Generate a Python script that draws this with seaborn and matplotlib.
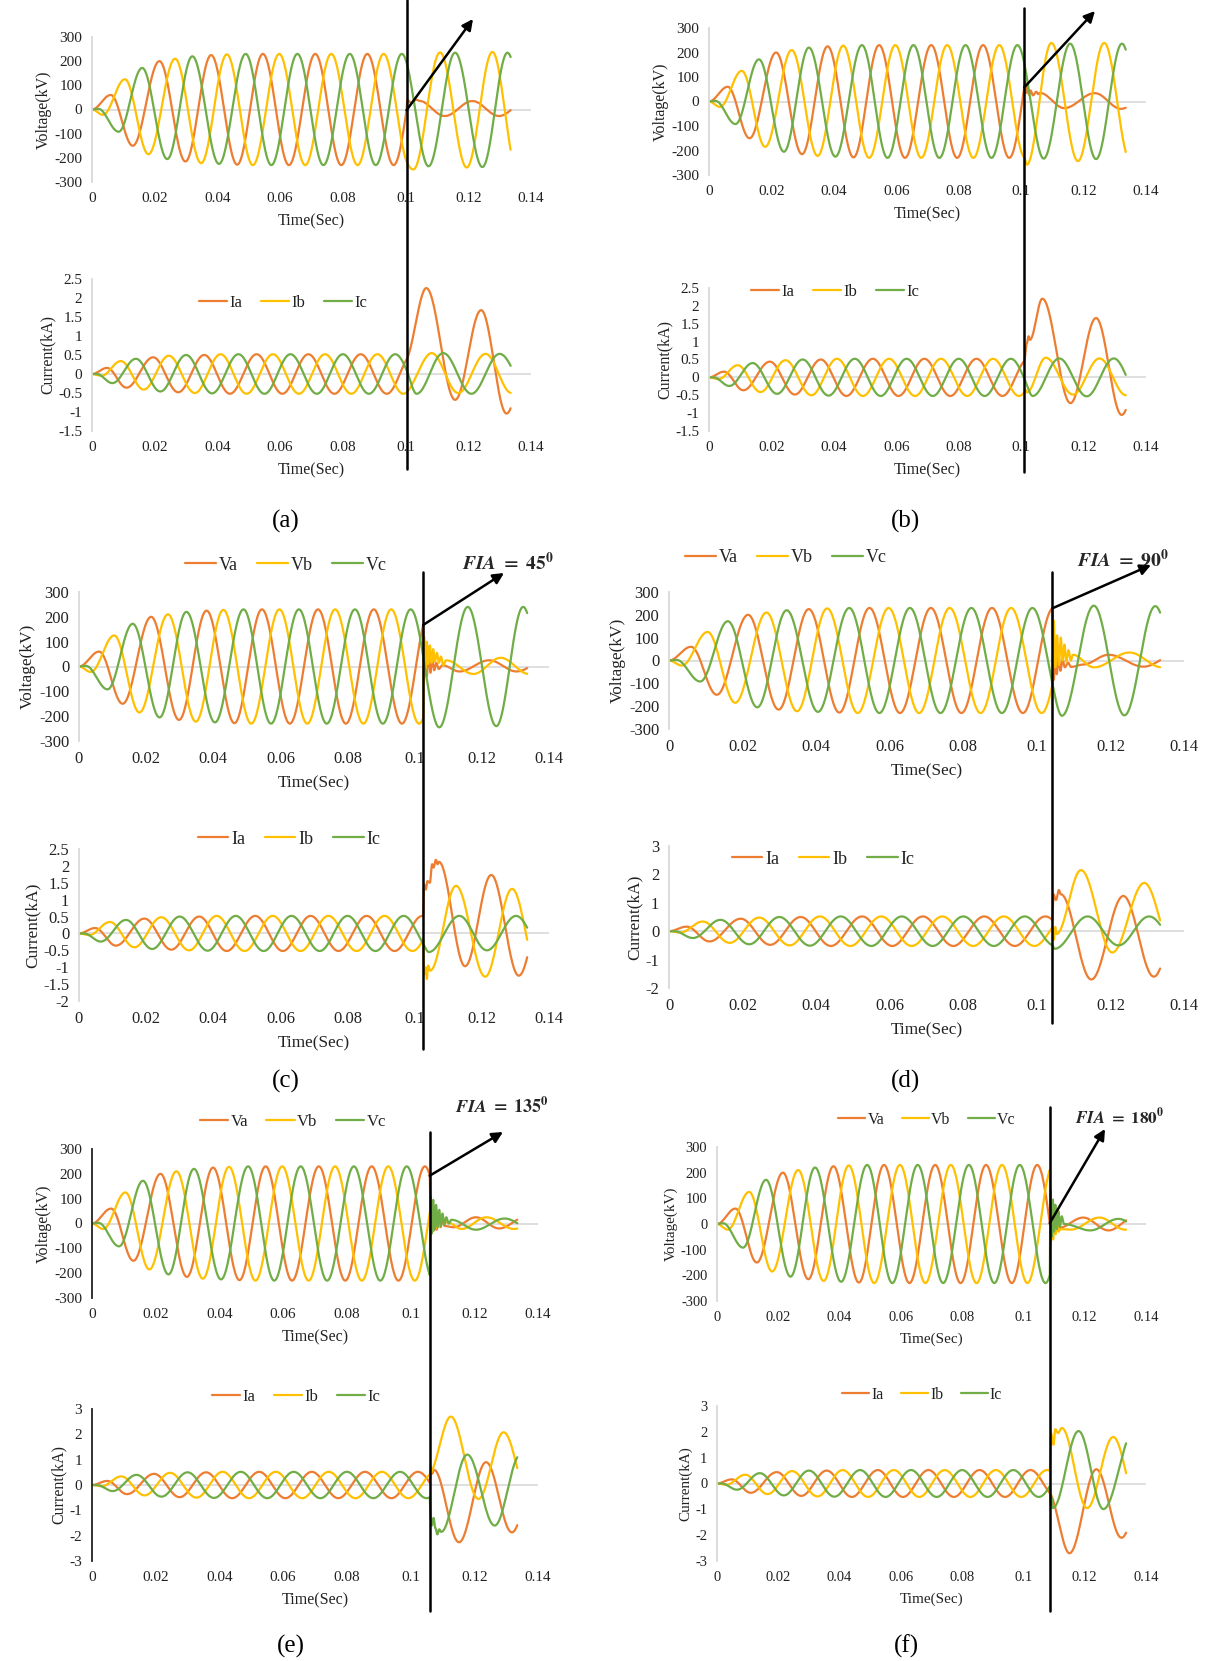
import numpy as np
import pandas as pd
import matplotlib
matplotlib.use('Agg')
import matplotlib.pyplot as plt
import seaborn as sns
from matplotlib.lines import Line2D
from matplotlib.patches import ConnectionPatch

# ---- valores (extremos de cada onda) ----
T_END = 0.1335
FASES_V = ['Va', 'Vb', 'Vc']
FASES_I = ['Ia', 'Ib', 'Ic']
CORES = ['#ED7D31', '#FFC000', '#70AD47']

# regime antes da falta (igual em todos os casos)
PRE_VA = [(0, 0), (0.006, 60), (0.013, -150), (0.0215, 200), (0.0298, -215), (0.038, 225), (0.0463, -228),
          (0.0545, 230), (0.0628, -230), (0.0712, 230), (0.0795, -230), (0.0878, 230), (0.0962, -230),
          (0.1045, 230), (0.1128, -230), (0.1212, 230), (0.1295, -230), (0.138, 230)]
PRE_VB = [(0, 0), (0.0035, -22), (0.0105, 125), (0.018, -185), (0.0265, 210), (0.0348, -222), (0.043, 228),
          (0.0513, -230), (0.0597, 230), (0.068, -230), (0.0763, 230), (0.0847, -230), (0.093, 230),
          (0.1013, -230), (0.1097, 230), (0.118, -230), (0.1263, 230), (0.1347, -230)]
PRE_VC = [(0, 0), (0.002, 3), (0.0085, -92), (0.016, 172), (0.024, -205), (0.032, 220), (0.0405, -225),
          (0.049, 230), (0.0572, -230), (0.0655, 230), (0.0738, -230), (0.0822, 230), (0.0905, -230),
          (0.0988, 230), (0.1072, -230), (0.1155, 230), (0.1238, -230), (0.1322, 230), (0.14, -230)]
PRE_IA = [(0, 0), (0.0048, 0.16), (0.011, -0.36), (0.0195, 0.44), (0.0275, -0.48), (0.0358, 0.5), (0.044, -0.52),
          (0.0525, 0.52), (0.0607, -0.52), (0.069, 0.52), (0.0773, -0.52), (0.0857, 0.52), (0.094, -0.52),
          (0.1023, 0.52), (0.1107, -0.52), (0.119, 0.52), (0.1273, -0.52), (0.1357, 0.52)]
PRE_IB = [(0, 0), (0.003, -0.05), (0.0092, 0.34), (0.0165, -0.41), (0.0245, 0.48), (0.0328, -0.5), (0.041, 0.52),
          (0.0493, -0.52), (0.0577, 0.52), (0.066, -0.52), (0.0743, 0.52), (0.0827, -0.52), (0.091, 0.52),
          (0.0993, -0.52), (0.1077, 0.52), (0.116, -0.52), (0.1243, 0.52), (0.1327, -0.52), (0.141, 0.52)]
PRE_IC = [(0, 0), (0.0015, 0.0), (0.0065, -0.24), (0.014, 0.4), (0.0218, -0.46), (0.03, 0.5), (0.0383, -0.51),
          (0.0467, 0.52), (0.055, -0.52), (0.0633, 0.52), (0.0717, -0.52), (0.08, 0.52), (0.0883, -0.52),
          (0.0967, 0.52), (0.105, -0.52), (0.1133, 0.52), (0.1217, -0.52), (0.13, 0.52), (0.1383, -0.52)]

CASOS = ['a', 'b', 'c', 'd', 'e', 'f']
T_FALTA = [0.1003, 0.1010, 0.1025, 0.1042, 0.1060, 0.1086]
FIA = [None, None, '45', '90', '135', '180']

# depois da falta
POS_A = {
    'Va': [(0.1005, 40), (0.1018, 28), (0.1035, 40), (0.1043, 36), (0.1125, -27), (0.1213, 35), (0.1298, -27), (0.138, 30)],
    'Vb': [(0.1025, -248), (0.111, 236), (0.1195, -240), (0.1277, 238), (0.1355, -240)],
    'Vc': [(0.1073, -235), (0.1158, 235), (0.1245, -238), (0.1325, 235), (0.1405, -235)],
    'Ia': [(0.1066, 2.26), (0.1158, -0.68), (0.1241, 1.68), (0.1322, -1.04), (0.1405, 1.3)],
    'Ib': [(0.1083, 0.55), (0.1168, -0.5), (0.1255, 0.53), (0.1338, -0.5)],
    'Ic': [(0.1035, -0.52), (0.112, 0.55), (0.121, -0.52), (0.13, 0.53), (0.1395, -0.52)],
}
POS_B = {
    'Va': [(0.1013, 80), (0.1016, 35), (0.102, 58), (0.1025, 28), (0.103, 45), (0.1038, 25), (0.1048, 40),
           (0.1055, 30), (0.106, 35), (0.1138, -27), (0.1236, 34), (0.132, -30), (0.1405, 30)],
    'Vb': [(0.1018, -258), (0.1097, 239), (0.1182, -243), (0.1266, 239), (0.135, -243)],
    'Vc': [(0.1072, -233), (0.1157, 236), (0.124, -235), (0.1323, 236), (0.1405, -235)],
    'Ia': [(0.1018, 0.95), (0.1024, 1.15), (0.1028, 1.05), (0.1068, 2.2), (0.1158, -0.72), (0.124, 1.66),
           (0.1322, -1.05), (0.1405, 1.3)],
    'Ib': [(0.1014, -0.35), (0.1018, -0.42), (0.1079, 0.55), (0.1166, -0.48), (0.1251, 0.53), (0.1336, -0.5)],
    'Ic': [(0.1037, -0.52), (0.1122, 0.53), (0.121, -0.53), (0.1297, 0.53), (0.138, -0.53)],
}
POS_C = {
    'Va': [(0.1027, -60), (0.1031, 50), (0.1036, -40), (0.1041, 45), (0.1047, -25), (0.1052, 30), (0.1058, -15),
           (0.1064, 15), (0.1072, -10), (0.1082, 5), (0.1133, -20), (0.1222, 25), (0.1303, -20), (0.139, 25)],
    'Vb': [(0.1028, 120), (0.1032, -10), (0.1036, 100), (0.104, 10), (0.1045, 85), (0.105, 15), (0.1055, 70),
           (0.106, 20), (0.1066, 55), (0.1072, 15), (0.1078, 40), (0.1085, 5), (0.1093, 25), (0.1175, -30),
           (0.1256, 35), (0.134, -30)],
    'Vc': [(0.1073, -245), (0.1158, 240), (0.1243, -240), (0.1323, 240), (0.1405, -240)],
    'Ia': [(0.1028, 1.45), (0.1033, 1.3), (0.1038, 1.55), (0.1045, 1.5), (0.1052, 2.05), (0.1056, 1.95),
           (0.1063, 2.18), (0.1068, 2.05), (0.1072, 2.12), (0.115, -0.97), (0.1228, 1.73), (0.131, -1.25), (0.1395, 1.5)],
    'Ib': [(0.1028, -1.22), (0.1032, -1.0), (0.1036, -1.35), (0.104, -0.95), (0.1046, -1.1), (0.1123, 1.41),
           (0.121, -1.28), (0.129, 1.32), (0.1372, -1.3)],
    'Ic': [(0.1042, -0.55), (0.1133, 0.52), (0.1215, -0.5), (0.1302, 0.52), (0.1385, -0.5)],
}
POS_D = {
    'Va': [(0.1046, -85), (0.105, 30), (0.1054, -60), (0.1059, 20), (0.1064, -45), (0.107, 5), (0.1076, -30),
           (0.1085, -10), (0.1093, -28), (0.1125, -18), (0.1195, 25), (0.129, -27), (0.1375, 25)],
    'Vb': [(0.1046, 175), (0.105, -30), (0.1055, 110), (0.106, -20), (0.1065, 100), (0.107, 0), (0.1075, 70),
           (0.108, -5), (0.1086, 45), (0.1092, 0), (0.1098, 25), (0.1155, -30), (0.1252, 35), (0.134, -30)],
    'Vc': [(0.1068, -242), (0.1155, 240), (0.1238, -240), (0.1322, 238), (0.1405, -240)],
    'Ia': [(0.1045, 1.3), (0.1052, 1.1), (0.106, 1.45), (0.1065, 1.3), (0.1148, -1.7), (0.1235, 1.24),
           (0.1318, -1.6), (0.14, 1.2)],
    'Ib': [(0.1046, -0.3), (0.105, 0.15), (0.1053, -0.1), (0.112, 2.15), (0.1205, -0.75), (0.1292, 1.7), (0.1375, -0.8)],
    'Ic': [(0.1048, -0.62), (0.1138, 0.52), (0.1222, -0.5), (0.1305, 0.52), (0.1388, -0.5)],
}
POS_E = {
    'Va': [(0.1064, -40), (0.1068, 60), (0.1072, -30), (0.1077, 45), (0.1082, -25), (0.1088, 30), (0.1094, -15),
           (0.11, 15), (0.1107, -10), (0.1135, -15), (0.1205, 25), (0.1278, -20), (0.136, 25)],
    'Vb': [(0.1064, 30), (0.1068, -30), (0.1073, 25), (0.1078, -20), (0.1085, 15), (0.1092, -10), (0.1098, 10),
           (0.1115, 5), (0.116, -22), (0.1238, 25), (0.1325, -22), (0.141, 25)],
    'Vc': [(0.1063, 110), (0.1067, -40), (0.1071, 95), (0.1075, -25), (0.108, 75), (0.1085, -15), (0.109, 55),
           (0.1095, -10), (0.11, 40), (0.1106, -5), (0.1112, 25), (0.112, 0), (0.1128, 15), (0.1205, -25),
           (0.1295, 20), (0.138, -22)],
    'Ia': [(0.1064, 0.7), (0.1068, 0.45), (0.1073, 0.6), (0.1152, -2.26), (0.1237, 0.9), (0.1318, -1.87), (0.14, 0.9)],
    'Ib': [(0.1126, 2.7), (0.1213, -0.55), (0.1292, 2.08), (0.1375, -0.6)],
    'Ic': [(0.1063, -1.3), (0.1067, -1.6), (0.1072, -1.3), (0.1078, -1.7), (0.1084, -1.95), (0.109, -1.75),
           (0.1096, -1.85), (0.1178, 1.2), (0.1264, -1.6), (0.1345, 1.2)],
}
POS_F = {
    'Va': [(0.1089, -30), (0.1093, 20), (0.1097, -20), (0.1102, 10), (0.1115, -15), (0.1195, 25), (0.1278, -25), (0.136, 25)],
    'Vb': [(0.1089, -80), (0.1093, 30), (0.1097, -60), (0.1101, 15), (0.1105, -40), (0.111, 0), (0.1115, -30),
           (0.112, -20), (0.1155, -22), (0.1248, 25), (0.1332, -22), (0.1415, 25)],
    'Vc': [(0.1088, 130), (0.1092, -50), (0.1096, 95), (0.11, -30), (0.1104, 75), (0.1109, -20), (0.1114, 50),
           (0.1119, -10), (0.1125, 30), (0.1132, 0), (0.1218, -25), (0.131, 20), (0.139, -25)],
    'Ia': [(0.115, -2.7), (0.1238, 0.55), (0.132, -2.1), (0.1405, 0.5)],
    'Ib': [(0.109, 1.95), (0.1098, 1.5), (0.1104, 2.1), (0.1113, 1.95), (0.1125, 2.15), (0.1208, -0.95),
           (0.1293, 1.8), (0.1375, -0.9)],
    'Ic': [(0.1089, -0.85), (0.1092, -0.55), (0.1096, -0.95), (0.118, 2.03), (0.1261, -0.99), (0.136, 2.0)],
}
POS = [POS_A, POS_B, POS_C, POS_D, POS_E, POS_F]
PRE = {'Va': PRE_VA, 'Vb': PRE_VB, 'Vc': PRE_VC, 'Ia': PRE_IA, 'Ib': PRE_IB, 'Ic': PRE_IC}

X_TICKS = [0, 0.02, 0.04, 0.06, 0.08, 0.1, 0.12, 0.14]
V_TICKS = [-300, -200, -100, 0, 100, 200, 300]
I_LIM = [(-1.5, 2.5), (-1.5, 2.5), (-2, 2.5), (-2, 3), (-3, 3), (-3, 3)]
I_PASSO = [0.5, 0.5, 0.5, 1, 1, 1]

# ---- posicoes em pixels (esq, dir, topo, base) ----
W, H = 1207, 1661
CAIXA_V = [(92, 531, 37, 182), (709, 1146, 28, 175), (79, 549, 592, 741),
           (669, 1184, 592, 729), (92, 538, 1149, 1298), (717, 1146, 1147, 1301)]
CAIXA_I = [(92, 531, 279, 431), (709, 1146, 288, 431), (79, 549, 849, 1001),
           (669, 1184, 846, 988), (92, 538, 1409, 1561), (717, 1146, 1406, 1561)]
LEG_V = [(300, -4), None, (286, 565), (786, 558), (293, 1122), (927, 1120)]
LEG_I = [(283, 303), (835, 292), (289, 839), (823, 859), (296, 1397), (922, 1395)]
LINHA_Y = [(0, 469), (8, 472), (572, 1049), (572, 1023), (1132, 1611), (1107, 1611)]
SETA_FIM = [(473, 19), (1095, 11), (504, 573), (1151, 565), (503, 1132), (1105, 1129)]
TXT_FIA = [None, None, (508, 563), (1123, 560), (502, 1107), (1120, 1117)]
ROTULO = [(286, 521), (906, 521), (286, 1081), (906, 1081), (291, 1646), (906, 1646)]
ESCALA = [1.0, 1.0, 1.08, 1.08, 1.0, 0.95]

T = np.linspace(0, T_END, 7000)


def meio_cosseno(ts, pts):
    pt = np.array([p[0] for p in pts])
    pv = np.array([p[1] for p in pts])
    idx = np.clip(np.searchsorted(pt, ts, side='right') - 1, 0, len(pt) - 2)
    t0, t1 = pt[idx], pt[idx + 1]
    v0, v1 = pv[idx], pv[idx + 1]
    s = np.clip((ts - t0) / (t1 - t0), 0, 1)
    return v0 + (v1 - v0) * (1 - np.cos(np.pi * s)) / 2


def onda(pre, pos, tf):
    y = meio_cosseno(T, pre)
    v0 = meio_cosseno(np.array([tf]), pre)[0]
    dt = 1e-6
    m0 = (meio_cosseno(np.array([tf + dt]), pre)[0] - meio_cosseno(np.array([tf - dt]), pre)[0]) / (2 * dt)
    t1, v1 = pos[0]
    h = t1 - tf
    seg = (T >= tf) & (T < t1)
    s = (T[seg] - tf) / h
    y[seg] = (2 * s**3 - 3 * s**2 + 1) * v0 + (s**3 - 2 * s**2 + s) * h * m0 + (-2 * s**3 + 3 * s**2) * v1
    resto = T >= t1
    y[resto] = meio_cosseno(T[resto], pos)
    return y


def px(caixa):
    e, d, t, b = caixa
    return [e / W, 1 - b / H, (d - e) / W, (b - t) / H]


def estilo(ax, ylim, yticks, ylabel, fs, escuro=False):
    ax.set_xlim(0, 0.14)
    ax.set_ylim(*ylim)
    ax.set_xticks(X_TICKS)
    ax.set_xticklabels([f'{v:g}' for v in X_TICKS])
    ax.set_yticks(yticks)
    ax.set_yticklabels([f'{v:g}' for v in yticks])
    for s in ['top', 'right', 'bottom']:
        ax.spines[s].set_visible(False)
    ax.spines['left'].set_color('#222222' if escuro else '#D9D9D9')
    ax.spines['left'].set_linewidth(1.3)
    ax.axhline(0, color='#D9D9D9', lw=1.2, zorder=0)
    ax.tick_params(length=0, labelsize=11 * fs, colors='#222222', pad=7)
    ax.set_xlabel('Time(Sec)', fontsize=11.5 * fs, color='#222222', labelpad=6)
    ax.set_ylabel(ylabel, fontsize=11.5 * fs, color='#222222', labelpad=2)
    ax.set_facecolor('none')
    ax.grid(False)


def legenda(ax, pos, fs):
    handles, labels = ax.get_legend_handles_labels()
    if ax.get_legend() is not None:
        ax.get_legend().remove()
    if pos is None:
        return
    ax.legend(handles, labels, loc='center', bbox_to_anchor=(pos[0] / W, 1 - pos[1] / H),
              bbox_transform=fig.transFigure, ncol=3, frameon=False, fontsize=12 * fs,
              handlelength=1.7, columnspacing=1.1, handletextpad=0.15, labelcolor='#222222')


sns.set_theme(style='white')
plt.rcParams['font.family'] = ['Liberation Serif', 'DejaVu Serif']
plt.rcParams['mathtext.fontset'] = 'stix'

fig = plt.figure(figsize=(W / 100, H / 100), dpi=100)

for k, caso in enumerate(CASOS):
    tf = T_FALTA[k]
    pos = POS[k]
    fs = ESCALA[k]
    escuro = caso == 'e'

    axV = fig.add_axes(px(CAIXA_V[k]))
    dfV = pd.concat([pd.DataFrame({'t': T, 'val': onda(PRE[f], pos[f], tf), 'fase': f}) for f in FASES_V])
    sns.lineplot(data=dfV, x='t', y='val', hue='fase', palette=CORES, estimator=None, sort=False,
                 linewidth=1.6, ax=axV)
    estilo(axV, (-300, 300), V_TICKS, 'Voltage(kV)', fs, escuro)
    legenda(axV, LEG_V[k], fs)

    axI = fig.add_axes(px(CAIXA_I[k]))
    dfI = pd.concat([pd.DataFrame({'t': T, 'val': onda(PRE[f], pos[f], tf), 'fase': f}) for f in FASES_I])
    sns.lineplot(data=dfI, x='t', y='val', hue='fase', palette=CORES, estimator=None, sort=False,
                 linewidth=1.6, ax=axI)
    lo, hi = I_LIM[k]
    iticks = np.round(np.arange(lo, hi + 1e-9, I_PASSO[k]), 2)
    estilo(axI, I_LIM[k], iticks, 'Current(kA)', fs, escuro)
    legenda(axI, LEG_I[k], fs)

    # linha vertical da falta atravessando os dois graficos
    xa = axV.transData.transform((tf, 0))[0] / W
    xb = axI.transData.transform((tf, 0))[0] / W
    yt, yb = LINHA_Y[k]
    fig.add_artist(Line2D([xa, xb], [1 - yt / H, 1 - yb / H], transform=fig.transFigure,
                          color='black', lw=1.8))

    # seta a partir do ponto de falta em Va
    va0 = onda(PRE['Va'], pos['Va'], tf)[np.searchsorted(T, tf)]
    seta = ConnectionPatch(xyA=(tf, va0), coordsA=axV.transData,
                           xyB=(SETA_FIM[k][0], H - SETA_FIM[k][1]), coordsB='figure pixels',
                           arrowstyle='-|>', mutation_scale=16, color='black', lw=1.8)
    fig.add_artist(seta)

    if FIA[k] is not None:
        fig.text(TXT_FIA[k][0] / W, 1 - TXT_FIA[k][1] / H,
                 r'$\mathbfit{FIA}\ \mathbf{=\ ' + FIA[k] + r'^0}$',
                 ha='center', va='center', fontsize=13 * fs)

    fig.text(ROTULO[k][0] / W, 1 - ROTULO[k][1] / H, f'({caso})', ha='center', va='center',
             fontsize=18, color='black')

fig.savefig('out.png', dpi=100, facecolor='white')
